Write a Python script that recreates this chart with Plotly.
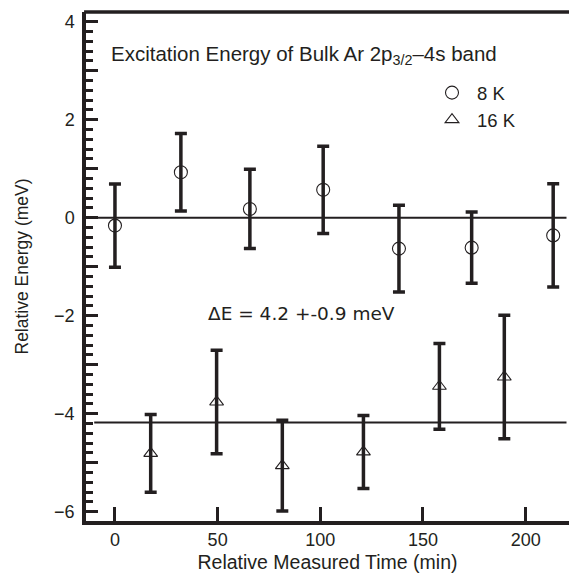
import plotly.graph_objects as go

# ---- data ----
time_8K = [0.0, 32.1, 65.7, 101.4, 138.3, 173.7, 213.4]
energy_8K = [-0.16, 0.93, 0.18, 0.57, -0.63, -0.61, -0.36]
err_8K = [0.85, 0.79, 0.81, 0.89, 0.885, 0.725, 1.055]

time_16K = [17.4, 49.5, 81.5, 121.0, 158.0, 189.6]
energy_16K = [-4.81, -3.76, -5.06, -4.78, -3.44, -3.25]
err_16K = [0.795, 1.055, 0.925, 0.745, 0.875, 1.26]

level_8K = 0.0
level_16K = -4.18

x_ticks = [0, 50, 100, 150, 200]
y_ticks = [-6, -5, -4, -3, -2, -1, 0, 1, 2, 3, 4]
y_tick_labels = ["−6", "", "−4", "", "−2", "", "0", "", "2", "", "4"]

INK = "#231f20"
FONT = "Liberation Sans, Arial, sans-serif"
FONT2 = "DejaVu Sans, sans-serif"

fig = go.Figure()

fig.add_trace(go.Scatter(
    x=time_8K, y=energy_8K, mode="markers", name="8 K",
    marker=dict(symbol="circle-open", size=13, color=INK, line=dict(width=1.1, color=INK)),
    error_y=dict(type="data", array=err_8K, visible=True, color=INK, thickness=3.5, width=6),
))
fig.add_trace(go.Scatter(
    x=time_16K, y=energy_16K, mode="markers", name="16 K",
    marker=dict(symbol="triangle-up-open", size=12, color=INK, line=dict(width=1.1, color=INK)),
    error_y=dict(type="data", array=err_16K, visible=True, color=INK, thickness=3.5, width=6),
))

# reference levels
fig.add_shape(type="line", xref="paper", yref="y", x0=0, x1=1, y0=level_8K, y1=level_8K,
              line=dict(color=INK, width=2), layer="below")
fig.add_shape(type="line", xref="paper", yref="y", x0=0.017, x1=1, y0=level_16K, y1=level_16K,
              line=dict(color=INK, width=2), layer="below")
# keep the right edge open (no right frame line)
fig.add_shape(type="line", xref="paper", yref="paper", x0=1, x1=1, y0=0.006, y1=0.994,
              line=dict(color="white", width=5), layer="above")
# top frame line
fig.add_shape(type="line", xref="paper", yref="paper", x0=-0.004, x1=1, y0=1, y1=1,
              line=dict(color=INK, width=3.5), layer="above")

fig.add_annotation(
    text="Excitation Energy of Bulk Ar 2p<sub>3/2</sub>–4s band",
    xref="paper", yref="paper", x=0.048, y=0.915, xanchor="left", yanchor="middle",
    showarrow=False, font=dict(family=FONT, size=20.5, color=INK))
fig.add_annotation(
    text="ΔE = 4.2 +-0.9 meV",
    xref="paper", yref="paper", x=0.446, y=0.408, xanchor="center", yanchor="middle",
    showarrow=False, font=dict(family=FONT2, size=18.5, color=INK))

fig.update_layout(
    width=569, height=579,
    margin=dict(l=86, r=0, t=12, b=58),
    paper_bgcolor="white", plot_bgcolor="white",
    font=dict(family=FONT, size=18, color=INK),
    showlegend=True,
    legend=dict(x=0.706, y=0.878, xanchor="left", yanchor="top",
                bgcolor="rgba(0,0,0,0)", font=dict(family=FONT, size=18.5, color=INK),
                itemwidth=40, tracegroupgap=0),
    xaxis=dict(
        range=[-14.1, 221.1], tickvals=x_ticks, ticks="inside", ticklen=14, tickwidth=3,
        tickcolor=INK, showline=True, linewidth=3.5, linecolor=INK, mirror=False,
        showgrid=False, zeroline=False,
        title=dict(text="Relative Measured Time (min)", font=dict(size=19.5), standoff=7),
        tickfont=dict(size=18),
    ),
    yaxis=dict(
        range=[-6.19, 4.20], tickvals=y_ticks, ticktext=y_tick_labels,
        ticks="inside", ticklen=12, tickwidth=3,
        tickcolor=INK, showline=True, linewidth=3.5, linecolor=INK, mirror=False,
        showgrid=False, zeroline=False, ticklabelstandoff=4,
        minor=dict(dtick=0.2, tick0=0, ticks="inside", ticklen=7, tickwidth=2.5, tickcolor=INK, showgrid=False),
        title=dict(text="Relative Energy (meV)", font=dict(size=17.5), standoff=22),
        tickfont=dict(size=18),
    ),
)

fig.write_html(
    "out.html",
    config={"displayModeBar": False},
    post_script="document.body.style.margin='0';document.body.style.overflow='hidden';",
)
